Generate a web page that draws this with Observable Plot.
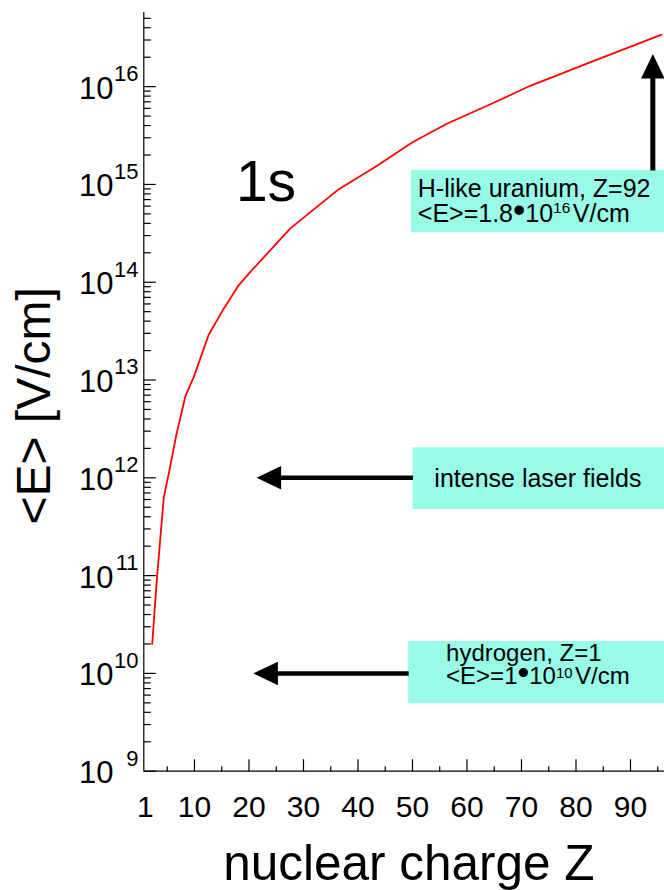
<!DOCTYPE html>
<html>
<head>
<meta charset="utf-8">
<script src="https://cdn.jsdelivr.net/npm/d3@7"></script>
<script src="https://cdn.jsdelivr.net/npm/@observablehq/plot@0.6"></script>
<style>
  html, body { margin: 0; padding: 0; background: #fff; }
  #chart svg { display: block; }
</style>
</head>
<body>
<div id="chart"></div>
<script>
// Mean electric field <E> of the 1s state against nuclear charge Z
const chargeZ = [2.24, 3.15, 4.37, 5.41, 6.70, 8.35, 9.87, 12.6, 15.4, 18.1, 20.5,
                 27.6, 36.2, 43.5, 50.0, 56.4, 64.3, 71.6, 82.7, 95.7];
const fieldE  = [2.0e10, 1.0e11, 6.3e11, 1.2e12, 2.8e12, 6.9e12, 1.07e13, 2.9e13, 5.4e13, 9.3e13, 1.32e14,
                 3.55e14, 8.7e14, 1.55e15, 2.7e15, 4.2e15, 6.6e15, 1.02e16, 1.78e16, 3.4e16];

// Axis ticks and labels
const xTickValues = [1, 10, 20, 30, 40, 50, 60, 70, 80, 90];
const xTickLabels = ["1", "10", "20", "30", "40", "50", "60", "70", "80", "90"];
const xMinorValues = [5, 15, 25, 35, 45, 55, 65, 75, 85, 95];
const yDecadeValues = [1e9, 1e10, 1e11, 1e12, 1e13, 1e14, 1e15, 1e16];
const yExponentLabels = ["9", "10", "11", "12", "13", "14", "15", "16"];

const zDomain = [0.7, 96.24];
const eDomain = [1e9, 5.73e16];

// Annotation boxes (left edge in Z, bottom/top in V/cm)
const boxLeftZ = [49.8, 50.1, 49.3];
const boxLowE = [3.22e14, 4.74e11, 4.89e9];
const boxHighE = [1.39e15, 2.03e12, 2.12e10];

// Horizontal arrows: laser fields and hydrogen
const arrowE = [1e12, 1e10];
const arrowFromZ = [50.1, 49.3];
const arrowShaftEndZ = [23.4, 22.8];
const arrowTipZ = [21.4, 20.8];

// Vertical arrow: H-like uranium
const uArrowZ = [94.1];
const uArrowFromE = [1.39e15];
const uArrowShaftEndE = [1.6e16];
const uArrowTipE = [2.16e16];

const boxes = boxLeftZ.map((z, i) => ({z1: z, z2: zDomain[1], e1: boxLowE[i], e2: boxHighE[i]}));
const hArrows = arrowE.map((e, i) => ({e, from: arrowFromZ[i], end: arrowShaftEndZ[i], tip: arrowTipZ[i]}));
const vArrows = uArrowZ.map((z, i) => ({z, from: uArrowFromE[i], end: uArrowShaftEndE[i], tip: uArrowTipE[i]}));
const curve = chargeZ.map((z, i) => ({z, e: fieldE[i]}));
const decades = yDecadeValues.map((e, i) => ({e, exp: yExponentLabels[i]}));
const yMinorValues = d3.scaleLog().domain(eDomain).ticks()
  .filter(v => !yDecadeValues.some(d => Math.abs(v / d - 1) < 1e-9));

// Symbols: tick strokes and a filled arrowhead with its tip at the anchor
const len = size => Math.sqrt(size / Math.PI);
const tickRight = {draw(c, s) { const l = len(s); c.moveTo(0, 0); c.lineTo(l, 0); }};
const tickUp = {draw(c, s) { const l = len(s); c.moveTo(0, 0); c.lineTo(0, -l); }};
const arrowHead = {draw(c, s) { const l = len(s); c.moveTo(0, 0); c.lineTo(-0.48 * l, l); c.lineTo(0.48 * l, l); c.closePath(); }};

const boxFill = "#97fbe8";

function boxLine(z, e, text, dx, dy, fontSize) {
  return Plot.text([{z, e, text}], {x: "z", y: "e", text: "text", textAnchor: "start",
    lineAnchor: "middle", dx, dy, fontSize, fill: "black"});
}

const chart = Plot.plot({
  width: 664,
  height: 890,
  marginLeft: 143.3,
  marginRight: 0,
  marginTop: 12,
  marginBottom: 119.3,
  x: {domain: zDomain, axis: null},
  y: {type: "log", domain: eDomain, axis: null},
  style: {fontFamily: '"Liberation Sans", Arial, Helvetica, sans-serif', background: "white", overflow: "visible"},
  marks: [
    // annotation boxes
    Plot.rect(boxes, {x1: "z1", x2: "z2", y1: "e1", y2: "e2", fill: boxFill}),

    // axis lines
    Plot.ruleX([zDomain[0]], {stroke: "black", strokeWidth: 1.2}),
    Plot.ruleY([eDomain[0]], {stroke: "black", strokeWidth: 1.2}),

    // inward ticks
    Plot.dot(yDecadeValues, {x: zDomain[0], y: d => d, symbol: tickRight, r: 12, stroke: "black", fill: "none", strokeWidth: 1.2}),
    Plot.dot(yMinorValues, {x: zDomain[0], y: d => d, symbol: tickRight, r: 7, stroke: "black", fill: "none", strokeWidth: 1.2}),
    Plot.dot(xTickValues.filter(v => v !== 1), {x: d => d, y: eDomain[0], symbol: tickUp, r: 12, stroke: "black", fill: "none", strokeWidth: 1.2}),
    Plot.dot(xMinorValues, {x: d => d, y: eDomain[0], symbol: tickUp, r: 5, stroke: "black", fill: "none", strokeWidth: 1.2}),

    // y tick labels: 10 with raised exponent
    Plot.text(decades, {x: zDomain[0], y: "e", text: () => "10", textAnchor: "end", lineAnchor: "middle",
      dx: -30.3, dy: 2.1, fontSize: 31, fill: "black"}),
    Plot.text(decades, {x: zDomain[0], y: "e", text: "exp", textAnchor: "end", lineAnchor: "middle",
      dx: -5.3, dy: -12.7, fontSize: 22, fill: "black"}),

    // x tick labels
    Plot.text(xTickValues, {x: d => d, y: eDomain[0], text: (d, i) => xTickLabels[i], textAnchor: "middle",
      lineAnchor: "top", dy: 24, fontSize: 30, fill: "black"}),

    // axis titles
    Plot.text(["<E> [V/cm]"], {frameAnchor: "left", rotate: -90, dx: -108.7, dy: 14, fontSize: 48,
      textAnchor: "middle", lineAnchor: "middle", fill: "black"}),
    Plot.text(["nuclear charge Z"], {frameAnchor: "bottom", dx: 4.7, dy: 92.8, fontSize: 49.5,
      textAnchor: "middle", lineAnchor: "middle", fill: "black"}),

    // the 1s field curve
    Plot.line(curve, {x: "z", y: "e", stroke: "#ff0000", strokeWidth: 1.8}),
    Plot.text([{z: 17.6, e: 1.05e15, t: "1s"}], {x: "z", y: "e", text: "t", textAnchor: "start",
      lineAnchor: "middle", fontSize: 57, fill: "black"}),

    // arrows
    Plot.link(hArrows, {x1: "from", x2: "end", y1: "e", y2: "e", stroke: "black", strokeWidth: 4.5}),
    Plot.dot(hArrows, {x: "tip", y: "e", symbol: arrowHead, r: 24.5, rotate: -90, fill: "black", stroke: "none"}),
    Plot.link(vArrows, {x1: "z", x2: "z", y1: "from", y2: "end", stroke: "black", strokeWidth: 5}),
    Plot.dot(vArrows, {x: "z", y: "tip", symbol: arrowHead, r: 24.5, fill: "black", stroke: "none"}),

    // box texts; ^{..} is a raised exponent, ^[..] a slightly raised one
    boxLine(boxLeftZ[0], boxHighE[0], "H-like uranium, Z=92", 6.4, 18.7, 25),
    boxLine(boxLeftZ[0], boxHighE[0], "<E>=1.8•10^{16}V/cm", 6.4, 43.7, 25),
    boxLine(boxLeftZ[1], arrowE[0], "intense laser fields", 21.3, 1.6, 25),
    boxLine(boxLeftZ[2], arrowE[1], "hydrogen, Z=1", 37.4, -20.4, 24),
    boxLine(boxLeftZ[2], arrowE[1], "<E>=1•10^[10]V/cm", 37.4, 2.6, 24)
  ]
});

// Render exponents as smaller raised digits and enlarge the bullet
function applyRichText(svg) {
  const ns = "http://www.w3.org/2000/svg";
  svg.querySelectorAll("text").forEach(el => {
    const src = el.textContent;
    if (!/\^\{|\^\[|•/.test(src)) return;
    const host = el.closest("[font-size]");
    const fs = host ? parseFloat(host.getAttribute("font-size")) : 24;
    el.textContent = "";
    const add = (str, attrs) => {
      const t = document.createElementNS(ns, "tspan");
      for (const k in attrs) t.setAttribute(k, attrs[k]);
      t.textContent = str;
      el.appendChild(t);
    };
    const re = /\^\{([^}]*)\}|\^\[([^\]]*)\]|•/g;
    let last = 0, m, restore = 0;
    while ((m = re.exec(src))) {
      if (m.index > last) {
        add(src.slice(last, m.index), restore ? {dy: restore, dx: 2.5} : {});
        restore = 0;
      }
      if (m[0] === "•") {
        add("•", Object.assign({"font-size": fs * 1.4}, restore ? {dy: restore} : {}));
        restore = 0;
      } else {
        const shift = (m[1] !== undefined ? 0.38 : 0.25) * fs;
        add(m[1] !== undefined ? m[1] : m[2], {"font-size": fs * 0.62, dy: -shift});
        restore = shift;
      }
      last = re.lastIndex;
    }
    if (last < src.length) add(src.slice(last), restore ? {dy: restore, dx: 2.5} : {});
  });
}
applyRichText(chart);

document.getElementById("chart").appendChild(chart);
</script>
</body>
</html>
